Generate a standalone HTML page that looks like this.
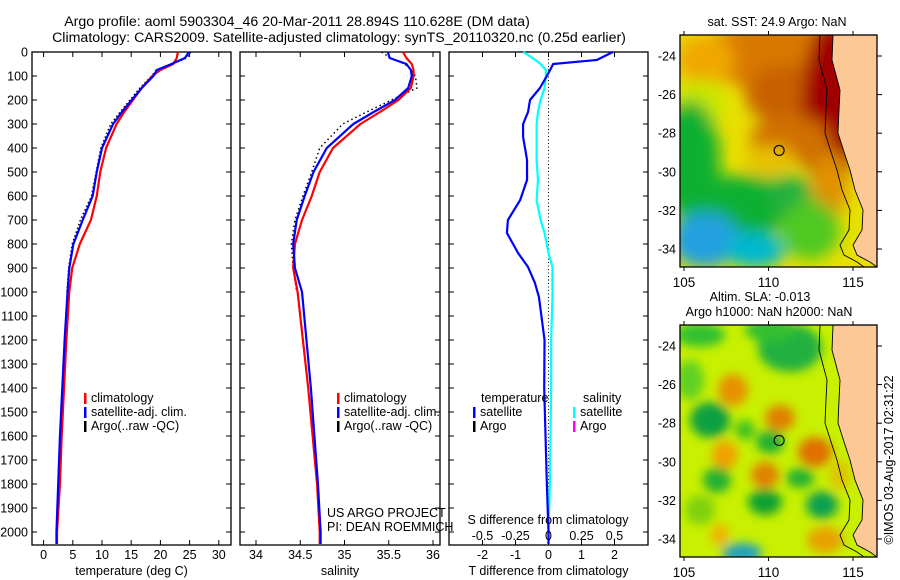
<!DOCTYPE html>
<html><head><meta charset="utf-8">
<style>
body{margin:0;background:#fff;}
svg{display:block;font-family:"Liberation Sans",sans-serif;}
text{font-size:12.5px;fill:#000;}
</style></head>
<body>
<svg id="fig" width="900" height="580" viewBox="0 0 900 580" xmlns="http://www.w3.org/2000/svg">
<defs>
<filter id="blur8" x="-20%" y="-20%" width="140%" height="140%"><feGaussianBlur stdDeviation="8"/></filter>
<filter id="blur5" x="-30%" y="-30%" width="160%" height="160%"><feGaussianBlur stdDeviation="5"/></filter>
<clipPath id="clipA"><rect x="680" y="35" width="197" height="232"/></clipPath>
<clipPath id="clipB"><rect x="680" y="325" width="197" height="232"/></clipPath>
</defs>
<text x="297" y="26" text-anchor="middle" style="font-size:14.2px">Argo profile: aoml 5903304_46 20-Mar-2011 28.894S 110.628E (DM data)</text>
<text x="339" y="42" text-anchor="middle" style="font-size:14.2px">Climatology: CARS2009. Satellite-adjusted climatology: synTS_20110320.nc (0.25d earlier)</text>
<g id="charts"></g>
<g id="maps"></g>
</svg>
<script>
// ---------- data ----------
const depths = [0,25,50,75,100,150,200,250,300,400,500,600,700,800,900,1000,1200,1400,1600,1800,2000,2050];
const tempClim = [23.0,22.8,22.2,20.0,18.6,16.8,15.3,13.8,12.5,10.7,9.7,9.1,8.1,6.2,4.9,4.4,3.9,3.5,3.1,2.8,2.3,2.3];
const tempSat  = [24.9,24.2,21.9,19.4,18.8,16.8,15.1,13.4,11.9,10.0,9.1,8.4,6.7,5.1,4.4,4.1,3.6,3.2,2.8,2.5,2.2,2.2];
const argoDepths = [0,25,50,75,100,150,200,250,300,400,500,600,700,800,900,1000];
const tempArgo = [25.2,24.5,22.0,19.3,18.5,16.5,14.8,13.1,11.5,9.8,9.0,8.2,6.3,4.9,4.3,4.0];
const salClim = [35.66,35.70,35.76,35.78,35.78,35.75,35.61,35.40,35.18,34.87,34.72,34.63,34.52,34.44,34.42,34.47,34.53,34.59,34.64,34.69,34.72,34.72];
const salSat  = [35.49,35.51,35.70,35.75,35.76,35.72,35.57,35.33,35.10,34.80,34.65,34.55,34.46,34.42,34.44,34.52,34.57,34.62,34.66,34.70,34.73,34.73];
const salArgo = [35.42,35.52,35.68,35.76,35.80,35.82,35.53,35.25,34.98,34.72,34.63,34.53,34.44,34.40,34.42,34.46];
const diffDepths = [0,33,50,75,100,150,200,250,300,354,450,533,617,700,754,838,896,963,1021,1200,1400,1800,2000,2050];
const tDiffSat = [1.95,1.47,0.14,0.05,-0.05,-0.26,-0.56,-0.62,-0.77,-0.77,-0.65,-0.65,-0.86,-1.23,-1.26,-0.92,-0.62,-0.41,-0.29,-0.12,-0.13,-0.05,0.0,0.0];
const sDiffSat = [-0.19,-0.10,-0.06,-0.02,-0.02,-0.03,-0.06,-0.08,-0.09,-0.09,-0.09,-0.08,-0.09,-0.06,-0.03,0.0,0.03,0.03,0.03,0.02,0.02,0.01,0.0,0.0];
const depthTicks = [0,100,200,300,400,500,600,700,800,900,1000,1100,1200,1300,1400,1500,1600,1700,1800,1900,2000];
const tempTicks = [0,5,10,15,20,25,30];
const salTicks = [34,34.5,35,35.5,36];
const tdTicks = [-2,-1,0,1,2];
const sdTicks = [-0.5,-0.25,0,0.25,0.5];
const latTicks = [-24,-26,-28,-30,-32,-34];
const lonTicks = [105,110,115];

const NS='http://www.w3.org/2000/svg';
function mk(tag,attrs,parent,txt){const e=document.createElementNS(NS,tag);for(const k in attrs)e.setAttribute(k,attrs[k]);if(txt!==undefined)e.textContent=txt;parent.appendChild(e);return e;}
const charts=document.getElementById('charts');
const TOP=52,BOT=545;
const yD = d => TOP + d*0.24;
const xT = t => 43.6 + t*5.84;
const xS = s => 256 + (s-34)*88.5;
const xTD = v => 548.5 + v*33;
const xSD = v => 548.5 + v*132;

function panel(name,x0,x1,ticks,xf,labelFmt,xlabel,showY){
  const g=mk('g',{},charts);
  
  
  const r=mk('rect',{x:x0,y:TOP,width:x1-x0,height:BOT-TOP,fill:'none',stroke:'#000','stroke-width':1.3},g);
  
  
  depthTicks.forEach(d=>{
    mk('line',{x1:x0,x2:x0+5,y1:yD(d),y2:yD(d),stroke:'#000'},g);
    mk('line',{x1:x1-5,x2:x1,y1:yD(d),y2:yD(d),stroke:'#000'},g);
    if(showY){const t=mk('text',{x:x0-4,y:yD(d)+4.5,'text-anchor':'end'},g,String(d));
      
      }
  });
  ticks.forEach(v=>{
    const x=xf(v);
    mk('line',{x1:x,x2:x,y1:TOP,y2:TOP+5,stroke:'#000'},g);
    mk('line',{x1:x,x2:x,y1:BOT-5,y2:BOT,stroke:'#000'},g);
    const t=mk('text',{x:x,y:559,'text-anchor':'middle'},g,labelFmt(v));
    
    
  });
  const xl=mk('text',{x:(x0+x1)/2,y:575,'text-anchor':'middle'},g,xlabel);
  
  
  return g;
}
function line(g,name,vals,ds,xf,color,w,dash){
  const p=mk('polyline',{points:vals.map((v,i)=>xf(v)+','+yD(ds[i])).join(' '),fill:'none',stroke:color,'stroke-width':w,'stroke-linejoin':'round'},g);
  if(dash)p.setAttribute('stroke-dasharray',dash);
  
  
}
function legend(g,x,y,items){
  items.forEach((it,i)=>{
    mk('rect',{x:x,y:y+i*14-9,width:2.5,height:11,fill:it[1]},g);
    const t=mk('text',{x:x+7,y:y+i*14},g,it[0]);
    
    
  });
}
// Panel 1 temperature
const g1=panel('temperature-panel',32,231,tempTicks,xT,v=>String(v),'temperature (deg C)',true);
line(g1,'argo-temperature',tempArgo,argoDepths,xT,'#000',1.5,'1.5 2.5');
line(g1,'climatology-temperature',tempClim,depths,xT,'#ff0000',2.2);
line(g1,'satellite-temperature',tempSat,depths,xT,'#0000ff',2.2);
legend(g1,84,402,[['climatology','#f00'],['satellite-adj. clim.','#00f'],['Argo(..raw -QC)','#000']]);
// Panel 2 salinity
const g2=panel('salinity-panel',240,440,salTicks,xS,v=>String(v),'salinity',false);
line(g2,'argo-salinity',salArgo,argoDepths,xS,'#000',1.5,'1.5 3');
line(g2,'climatology-salinity',salClim,depths,xS,'#ff0000',2.2);
line(g2,'satellite-salinity',salSat,depths,xS,'#0000ff',2.2);
legend(g2,337,402,[['climatology','#f00'],['satellite-adj. clim.','#00f'],['Argo(..raw -QC)','#000']]);
const u1=mk('text',{x:327,y:517},g2,'US ARGO PROJECT');
const u2=mk('text',{x:327,y:531},g2,'PI: DEAN ROEMMICH');
// Panel 3 differences
const g3=panel('difference-panel',449,648,tdTicks,xTD,v=>String(v),'T difference from climatology',false);
mk('line',{x1:548.5,x2:548.5,y1:TOP,y2:BOT,stroke:'#000','stroke-dasharray':'1 2.5'},g3);
line(g3,'salinity-difference-satellite',sDiffSat,diffDepths,xSD,'#00ffff',2.2);
line(g3,'temperature-difference-satellite',tDiffSat,diffDepths,xTD,'#0000ff',2.2);
const sh=mk('text',{x:548,y:524,'text-anchor':'middle'},g3,'S difference from climatology');
sdTicks.forEach(v=>{const t=mk('text',{x:xSD(v),y:540,'text-anchor':'middle'},g3,String(v));});
const th=mk('text',{x:481,y:402},g3,'temperature');
const sh2=mk('text',{x:583,y:402},g3,'salinity');
legend(g3,473,416,[['satellite','#00f'],['Argo','#000']]);
legend(g3,573,416,[['satellite','#00ffff'],['Argo','#ff00ff']]);

// ---------- maps ----------
const maps=document.getElementById('maps');
function mapAxes(name,top,lat24y){
  const g=mk('g',{},maps);
  
  
  const xL=lon=>684+(lon-105)*16.9;
  const yL=lat=>lat24y+(-24-lat)*19.3;
  return {g,xL,yL};
}
function coast(g,yoff){
  const pts=[[833,35],[832,60],[836,75],[840,90],[839,110],[838,133],[845,155],[850,170],[855,190],[863,210],[862,230],[853,245],[857,255],[870,262],[877,267]];
  const land=pts.map(p=>p[0]+','+(p[1]+yoff)).join(' ');
  const l=mk('polygon',{points:land+' 877,'+(267+yoff)+' 877,'+(35+yoff),fill:'#fcc896'},g);
  
  mk('polyline',{points:pts.map(p=>(p[0]-13)+','+(p[1]+yoff)).join(' '),fill:'none',stroke:'#000','stroke-width':0.9},g);
  mk('polyline',{points:land,fill:'none',stroke:'#000','stroke-width':0.9},g);
}
function frame(g,top,xL,yL){
  mk('rect',{x:680,y:top,width:197,height:232,fill:'none',stroke:'#000','stroke-width':1.3},g);
  latTicks.forEach(v=>{const y=yL(v);mk('line',{x1:877,x2:882,y1:y,y2:y,stroke:'#000'},g);
    const t=mk('text',{x:676,y:y+4.5,'text-anchor':'end'},g,String(v));});
  lonTicks.forEach(v=>{const x=xL(v);mk('line',{x1:x,x2:x,y1:top-4,y2:top,stroke:'#000'},g);mk('line',{x1:x,x2:x,y1:top+232,y2:top+236,stroke:'#000'},g);
    const t=mk('text',{x:x,y:top+252,'text-anchor':'middle',style:'font-size:13.5px'},g,String(v));});
  const c=mk('circle',{cx:xL(110.628),cy:yL(-28.894),r:5,fill:'none',stroke:'#000','stroke-width':1.1},g);
  
}
// SST map
const A=mapAxes('sst-map',35,56);
const fa=mk('g',{'clip-path':'url(#clipA)'},A.g);
mk('rect',{x:680,y:35,width:197,height:232,fill:'#e8e000'},fa);
const ba=mk('g',{filter:'url(#blur8)'},fa);
[[780,55,80,35,'#d87800'],[790,95,45,30,'#c86000'],[830,110,28,90,'#a00000'],[790,140,40,25,'#d07000'],[830,185,18,35,'#e09000'],[705,60,30,25,'#f0a800'],[700,105,25,25,'#c8e800'],[690,160,30,60,'#10b030'],[740,205,60,30,'#10b030'],[790,195,22,20,'#20b040'],[810,230,30,30,'#50c820'],[705,240,35,28,'#20a0e0'],[755,250,30,18,'#00b8d0'],[770,160,25,15,'#e8c000']].forEach(e=>{
  mk('ellipse',{cx:e[0],cy:e[1],rx:e[2],ry:e[3],fill:e[4]},ba);});
coast(fa,0);
frame(A.g,35,A.xL,A.yL);
const ta=mk('text',{x:777,y:26,'text-anchor':'middle'},A.g,'sat. SST: 24.9 Argo: NaN');
// SLA map
const B=mapAxes('sla-map',325,346);
const fb=mk('g',{'clip-path':'url(#clipB)'},B.g);
mk('rect',{x:680,y:325,width:197,height:232,fill:'#c8f000'},fb);
const bb=mk('g',{filter:'url(#blur5)'},fb);
[[700,335,25,12,'#30c030'],[690,380,14,20,'#60d020'],[790,348,32,24,'#20b040'],[770,330,25,12,'#30c030'],[733,390,15,16,'#e89000'],[780,418,15,13,'#e08000'],[710,420,20,18,'#10a040'],[725,455,13,14,'#f0a000'],[815,452,17,15,'#e07000'],[765,475,14,13,'#e08000'],[717,480,14,13,'#20b030'],[800,478,14,10,'#20b030'],[765,502,17,13,'#10a030'],[822,505,16,14,'#10a050'],[720,535,9,11,'#f0b000'],[825,540,18,13,'#e8a000'],[742,553,20,10,'#20a0c0'],[770,442,14,12,'#20b030'],[745,430,10,10,'#40c020'],[840,475,10,15,'#e0c000'],[700,510,15,15,'#80d010']].forEach(e=>{
  mk('ellipse',{cx:e[0],cy:e[1],rx:e[2],ry:e[3],fill:e[4]},bb);});
coast(fb,290);
frame(B.g,325,B.xL,B.yL);
const tb1=mk('text',{x:760,y:301,'text-anchor':'middle'},B.g,'Altim. SLA: -0.013');
const tb2=mk('text',{x:769,y:316,'text-anchor':'middle'},B.g,'Argo h1000: NaN h2000: NaN');
const cr=mk('text',{x:0,y:0,'text-anchor':'middle',transform:'translate(893,460) rotate(-90)'},maps,'©IMOS 03-Aug-2017 02:31:22');

</script>
</body></html>
